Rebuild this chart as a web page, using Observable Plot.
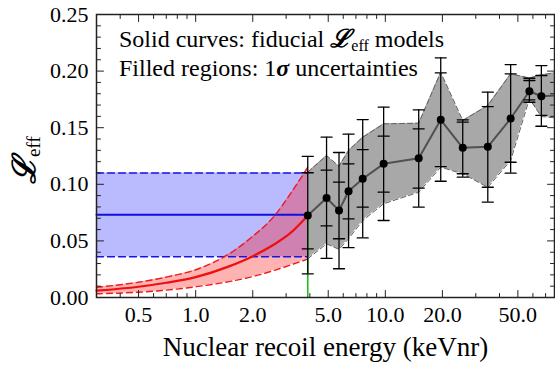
<!DOCTYPE html>
<html>
<head>
<meta charset="utf-8">
<script src="https://cdn.jsdelivr.net/npm/d3@7"></script>
<script src="https://cdn.jsdelivr.net/npm/@observablehq/plot@0.6"></script>
<style>
  html, body { margin: 0; padding: 0; background: white; }
  #chart svg { display: block; }
</style>
</head>
<body>
<div id="chart"></div>
<script>
// ---- measured data (keVnr, Leff) ----
const energy = [3.9, 4.9, 5.7, 6.4, 7.6, 9.8, 15.0, 19.6, 25.6, 34.7, 45.8, 57.5, 66.5];
const leff   = [0.0724, 0.0879, 0.0769, 0.0939, 0.1049, 0.1181, 0.1231, 0.1570, 0.1322, 0.1331, 0.1581, 0.1822, 0.1778];
const errHi  = [0.1246, 0.1416, 0.1281, 0.1443, 0.1572, 0.1681, 0.1658, 0.2117, 0.1570, 0.1814, 0.2058, 0.1937, 0.2049];
const errLo  = [0.0209, 0.0345, 0.0254, 0.0440, 0.0526, 0.0680, 0.0798, 0.1027, 0.1063, 0.0842, 0.1098, 0.1725, 0.1513];
const statHi = [0.1102, 0.1126, 0.1019, 0.1181, 0.1307, 0.1425, 0.1490, 0.1985, 0.1549, 0.1687, 0.1976, 0.1917, 0.1961];
const statLo = [0.0430, 0.0632, 0.0519, 0.0695, 0.0798, 0.0930, 0.0966, 0.1157, 0.1093, 0.0974, 0.1195, 0.1746, 0.1608];

// ---- fiducial model above threshold (gray band) ----
const bandEnergy = [3.9, 4.9, 5.7, 6.4, 7.6, 9.8, 15.0, 19.6, 25.6, 34.7, 45.8, 57.5, 66.5, 78];
const bandMid = [0.0724, 0.0879, 0.0769, 0.0939, 0.1049, 0.1181, 0.1231, 0.1570, 0.1322, 0.1331, 0.1581, 0.1822, 0.1778, 0.1784];
const bandHi  = [0.1107, 0.1254, 0.1160, 0.1299, 0.1416, 0.1534, 0.1540, 0.1990, 0.1564, 0.1696, 0.1976, 0.1939, 0.1967, 0.1985];
const bandLo  = [0.0342, 0.0474, 0.0425, 0.0519, 0.0680, 0.0828, 0.0930, 0.1151, 0.1093, 0.0974, 0.1210, 0.1755, 0.1599, 0.1587];

// ---- constant model below threshold (blue) ----
const blueEnergy = [0.3, 3.9];
const blueMid = 0.073, blueHi = 0.110, blueLo = 0.036;

// ---- falling model below threshold (red) ----
const redEnergy = [0.3, 0.5, 0.7, 1.0, 1.5, 2.0, 2.6, 3.2, 3.9];
const redMid    = [0.0060, 0.0095, 0.0130, 0.0180, 0.0275, 0.0365, 0.0470, 0.0577, 0.0724];
const redHi     = [0.0090, 0.0135, 0.0180, 0.0245, 0.0385, 0.0540, 0.0720, 0.0930, 0.1150];
const redLo     = [0.0033, 0.0047, 0.0065, 0.0095, 0.0140, 0.0185, 0.0240, 0.0290, 0.0340];

const threshold = 3.9;

// ---- ticks ----
const xLabelTicks = [0.5, 1, 2, 5, 10, 20, 50];
const xMinorTicks = [0.3, 0.4, 0.6, 0.7, 0.8, 0.9, 3, 4, 6, 7, 8, 9, 30, 40, 60, 70];
const yMajorTicks = [0, 0.05, 0.10, 0.15, 0.20, 0.25];
const yMinorTicks = [0.01,0.02,0.03,0.04,0.06,0.07,0.08,0.09,0.11,0.12,0.13,0.14,0.16,0.17,0.18,0.19,0.21,0.22,0.23,0.24];

// ---- tables ----
const points = energy.map((e, i) => ({e, v: leff[i], hi: errHi[i], lo: errLo[i], shi: statHi[i], slo: statLo[i]}));
const band = bandEnergy.map((e, i) => ({e, mid: bandMid[i], hi: bandHi[i], lo: bandLo[i]}));
const red = redEnergy.map((e, i) => ({e, mid: redMid[i], hi: redHi[i], lo: redLo[i]}));
const blue = blueEnergy.map(e => ({e, mid: blueMid, hi: blueHi, lo: blueLo}));

const tickShape = {draw(ctx, l) { ctx.moveTo(0, 0); ctx.lineTo(0, -l); }};
const capShape = {draw(ctx, l) { ctx.moveTo(-l / 2, 0); ctx.lineTo(l / 2, 0); }};
const ident = d => d;

function frameTicks(data, len, isX) {
  if (isX) return [
    Plot.vector(data, {x: ident, frameAnchor: "bottom", length: len, rotate: 0, shape: tickShape, anchor: "start", stroke: "#222", strokeWidth: 1}),
    Plot.vector(data, {x: ident, frameAnchor: "top", length: len, rotate: 180, shape: tickShape, anchor: "start", stroke: "#222", strokeWidth: 1})
  ];
  return [
    Plot.vector(data, {y: ident, frameAnchor: "left", length: len, rotate: 90, shape: tickShape, anchor: "start", stroke: "#222", strokeWidth: 1}),
    Plot.vector(data, {y: ident, frameAnchor: "right", length: len, rotate: -90, shape: tickShape, anchor: "start", stroke: "#222", strokeWidth: 1})
  ];
}

const chart = Plot.plot({
  width: 555,
  height: 365,
  marginLeft: 96,
  marginRight: 1,
  marginTop: 14,
  marginBottom: 68,
  style: {fontFamily: "'Liberation Serif', 'Times New Roman', serif", fontSize: "22px", background: "white", color: "black"},
  x: {type: "log", domain: [0.3, 78], axis: null},
  y: {domain: [0, 0.25], axis: null},
  marks: [
    // blue constant model
    Plot.areaY(blue, {x: "e", y1: "lo", y2: "hi", fill: "#0000ff", fillOpacity: 0.27}),
    // red model fill
    Plot.areaY(red, {x: "e", y1: "lo", y2: "hi", fill: "#ff0000", fillOpacity: 0.3, curve: "monotone-x"}),
    Plot.line(blue, {x: "e", y: "hi", stroke: "#1515e8", strokeWidth: 1.5, strokeDasharray: "7,4"}),
    Plot.line(blue, {x: "e", y: "lo", stroke: "#1515e8", strokeWidth: 1.5, strokeDasharray: "7,4"}),
    Plot.line(blue, {x: "e", y: "mid", stroke: "#1010e0", strokeWidth: 2}),
    Plot.line(red, {x: "e", y: "hi", stroke: "#ee1c1c", strokeWidth: 1.4, strokeDasharray: "6,4", curve: "monotone-x"}),
    Plot.line(red, {x: "e", y: "lo", stroke: "#ee1c1c", strokeWidth: 1.4, strokeDasharray: "6,4", curve: "monotone-x"}),
    Plot.line(red, {x: "e", y: "mid", stroke: "#ee1010", strokeWidth: 2.2, curve: "monotone-x"}),
    // gray band
    Plot.areaY(band, {x: "e", y1: "lo", y2: "hi", fill: "#a8a8a8"}),
    Plot.line(band, {x: "e", y: "hi", stroke: "#606060", strokeWidth: 1, strokeDasharray: "5,3"}),
    Plot.line(band, {x: "e", y: "lo", stroke: "#606060", strokeWidth: 1, strokeDasharray: "5,3"}),
    // threshold line
    Plot.ruleX([threshold], {y1: 0, y2: leff[0], stroke: "#1fbf1f", strokeWidth: 1.6}),
    // central line
    Plot.line(band, {x: "e", y: "mid", stroke: "#505050", strokeWidth: 2}),
    // error bars
    Plot.ruleX(points, {x: "e", y1: "lo", y2: "hi", stroke: "black", strokeWidth: 1.3}),
    Plot.vector(points, {x: "e", y: "hi", length: 11, shape: capShape, anchor: "start", stroke: "black", strokeWidth: 1.3}),
    Plot.vector(points, {x: "e", y: "lo", length: 11, shape: capShape, anchor: "start", stroke: "black", strokeWidth: 1.3}),
    Plot.vector(points, {x: "e", y: "shi", length: 11, shape: capShape, anchor: "start", stroke: "black", strokeWidth: 1.3}),
    Plot.vector(points, {x: "e", y: "slo", length: 11, shape: capShape, anchor: "start", stroke: "black", strokeWidth: 1.3}),
    Plot.dot(points, {x: "e", y: "v", r: 4, fill: "black", stroke: "none"}),
    // tick labels
    Plot.text(xLabelTicks, {x: ident, frameAnchor: "bottom", dy: 17, text: d3.format(".1f"), fontSize: 22, fill: "black", lineAnchor: "middle"}),
    Plot.text(yMajorTicks, {y: ident, frameAnchor: "left", dx: -8, textAnchor: "end", text: d3.format(".2f"), fontSize: 22, fill: "black", lineAnchor: "middle"}),
    // inward ticks on all four sides
    ...frameTicks(xLabelTicks, 7, true),
    ...frameTicks(xMinorTicks, 4, true),
    ...frameTicks(yMajorTicks, 7, false),
    ...frameTicks(yMinorTicks, 4, false),
    Plot.frame({stroke: "#222", strokeWidth: 1.5}),
    Plot.text(["Nuclear recoil energy (keVnr)"], {frameAnchor: "bottom", dy: 50, fontSize: 27, text: ident, fill: "black", lineAnchor: "middle"})
  ]
});

document.getElementById("chart").appendChild(chart);

// rich text annotations (script L with subscript)
const svg = d3.select(chart);
const serif = "'Liberation Serif', 'Times New Roman', serif";

const ylab = svg.append("text")
  .attr("transform", "translate(35,160) rotate(-90)")
  .attr("text-anchor", "middle")
  .attr("font-family", serif)
  .attr("fill", "black");
ylab.append("tspan").attr("font-size", 32).attr("font-weight", "bold").attr("font-style", "italic").text("ℒ");
ylab.append("tspan").attr("font-size", 19).attr("dy", 5).text("eff");

const l1 = svg.append("text").attr("x", 119).attr("y", 47).attr("text-anchor", "start")
  .attr("font-family", serif).attr("font-size", 24).attr("fill", "black");
l1.append("tspan").text("Solid curves: fiducial ");
l1.append("tspan").attr("font-weight", "bold").attr("font-style", "italic").attr("font-size", 25).text("ℒ");
l1.append("tspan").attr("font-size", 16).attr("dy", 4).text("eff");
l1.append("tspan").attr("dy", -4).text(" models");

const l2 = svg.append("text").attr("x", 119).attr("y", 76).attr("text-anchor", "start")
  .attr("font-family", serif).attr("font-size", 24).attr("fill", "black");
l2.append("tspan").text("Filled regions: 1");
l2.append("tspan").attr("font-weight", "bold").attr("font-style", "italic").text("σ");
l2.append("tspan").text(" uncertainties");
</script>
</body>
</html>
